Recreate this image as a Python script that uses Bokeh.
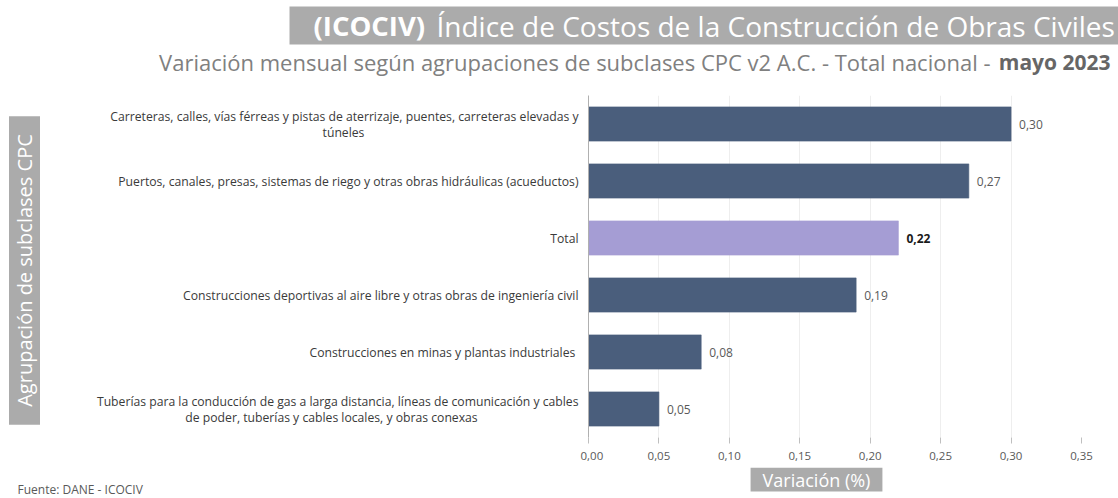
from bokeh.plotting import figure
from bokeh.models import Label, Range1d, FixedTicker, ColumnDataSource
from bokeh.layouts import column, row
from bokeh.embed import file_html
from bokeh.resources import INLINE
from math import pi

# ---------------- data ----------------
categories_line1 = [
    "Carreteras, calles, vías férreas y pistas de aterrizaje, puentes, carreteras elevadas y",
    "Puertos, canales, presas, sistemas de riego y otras obras hidráulicas (acueductos)",
    "Total",
    "Construcciones deportivas al aire libre y otras obras de ingeniería civil",
    "Construcciones  en minas y plantas industriales",
    "Tuberías para la conducción de gas a larga distancia, líneas de comunicación y cables",
]
categories_line2 = [
    "túneles",
    "",
    "",
    "",
    "",
    "de poder, tuberías y cables locales, y obras conexas",
]
values = [0.30, 0.27, 0.22, 0.19, 0.08, 0.05]
value_labels = ["0,30", "0,27", "0,22", "0,19", "0,08", "0,05"]
tick_values = [0.0, 0.05, 0.1, 0.15, 0.2, 0.25, 0.3, 0.35]
tick_labels = ["0,00", "0,05", "0,10", "0,15", "0,20", "0,25", "0,30", "0,35"]

FONT = "Open Sans"
DARK = "#4a5e7c"
TOTAL = "#a59dd4"
GREY_BOX = "#ababab"

n = len(values)
ypos = [n - 0.5 - i for i in range(n)]
colors = [TOTAL if c == "Total" else DARK for c in categories_line1]

W = 1118
TOP_H = 95
MID_H = 372
BOT_H = 31
LEFT_W = 580
FRAME_H = 342


def blank(width, height, xr, yr):
    f = figure(width=width, height=height, output_backend="svg", toolbar_location=None,
               x_range=xr, y_range=yr, min_border=0)
    f.axis.visible = False
    f.grid.visible = False
    f.outline_line_color = None
    return f


# ---------------- header ----------------
top = blank(W, TOP_H, Range1d(0, W), Range1d(0, TOP_H))
# grey box starts at x=289; the padding keeps the text at x=436
top.add_layout(Label(x=289, y=70, text="Índice de Costos de la Construcción de Obras Civiles",
                     text_align="left", text_baseline="middle", text_font=FONT,
                     text_font_size="28px", text_color="white",
                     background_fill_color=GREY_BOX,
                     padding=(147, 60, 0, 0)))
top.add_layout(Label(x=313, y=70, text="(ICOCIV)", text_align="left", text_baseline="middle",
                     text_font=FONT, text_font_size="27.5px", text_font_style="bold",
                     text_color="white"))
top.add_layout(Label(x=1110, y=34, text="mayo 2023", text_align="right", text_baseline="middle",
                     text_font=FONT, text_font_size="21px", text_font_style="bold",
                     text_color="#666666"))
top.add_layout(Label(x=990, y=34,
                     text="Variación mensual según agrupaciones de subclases CPC v2 A.C. - Total nacional -",
                     text_align="right", text_baseline="middle",
                     text_font=FONT, text_font_size="22px", text_color="#808080"))

# ---------------- left: category labels ----------------
left = blank(LEFT_W, MID_H, Range1d(0, LEFT_W), Range1d(0, n))
line2_center = [343, None, None, None, None, 331]
for y, l1, l2, cx in zip(ypos, categories_line1, categories_line2, line2_center):
    if l2:
        left.add_layout(Label(x=LEFT_W - 2, y=y, y_offset=8, text=l1, text_align="right",
                              text_baseline="middle", text_font=FONT, text_font_size="12.2px",
                              text_color="#3a3a3a"))
        left.add_layout(Label(x=cx, y=y, y_offset=-8, text=l2, text_align="center",
                              text_baseline="middle", text_font=FONT, text_font_size="12.2px",
                              text_color="#3a3a3a"))
    else:
        left.add_layout(Label(x=LEFT_W - 2, y=y, text=l1, text_align="right",
                              text_baseline="middle", text_font=FONT, text_font_size="12.2px",
                              text_color="#3a3a3a"))
left.add_layout(Label(x=24, y=167, x_units="screen", y_units="screen",
                      text="Agrupación de subclases CPC", angle=pi / 2,
                      text_align="center", text_baseline="middle",
                      text_font=FONT, text_font_size="20px", text_color="white",
                      background_fill_color=GREY_BOX,
                      padding=(18, 18, 2, 2)))

# ---------------- main chart ----------------
src = ColumnDataSource(dict(y=ypos, v=values, c=colors))
p = figure(width=W - LEFT_W, height=MID_H, output_backend="svg", toolbar_location=None,
           x_range=Range1d(0, 0.35), y_range=Range1d(0, n),
           min_border_left=8, min_border_right=37, min_border_top=0,
           min_border_bottom=MID_H - FRAME_H)
p.outline_line_color = None

p.hbar(y="y", right="v", left=0, height=0.6, color="c", source=src,
       line_color="c", line_alpha=0.6)

p.yaxis.ticker = FixedTicker(ticks=[])
p.yaxis.minor_tick_line_color = None
p.yaxis.major_tick_line_color = None
p.yaxis.axis_line_color = "#b0b0b0"
p.yaxis.major_label_text_font_size = "0px"
p.yaxis.major_label_standoff = 0
p.ygrid.visible = False

p.xaxis.ticker = FixedTicker(ticks=tick_values)
p.xaxis.major_label_overrides = {t: l for t, l in zip(tick_values, tick_labels)}
p.xaxis.axis_line_color = None
p.xaxis.major_tick_in = 0
p.xaxis.major_tick_out = 6
p.xaxis.major_tick_line_color = "#bfbfbf"
p.xaxis.minor_tick_line_color = None
p.xaxis.major_label_text_font = FONT
p.xaxis.major_label_text_font_size = "11.5px"
p.xaxis.major_label_text_color = "#595959"
p.xaxis.major_label_standoff = 8
p.xgrid.ticker = FixedTicker(ticks=tick_values)
p.xgrid.grid_line_color = "#eeeeee"

for y, v, lab, c in zip(ypos, values, value_labels, categories_line1):
    bold = c == "Total"
    p.add_layout(Label(x=v, y=y, text=lab, x_offset=8, text_baseline="middle",
                       text_font=FONT, text_font_size="12px",
                       text_color="#1a1a1a" if bold else "#595959",
                       text_font_style="bold" if bold else "normal"))

# ---------------- footer ----------------
bot = blank(W, BOT_H, Range1d(0, W), Range1d(0, BOT_H))
bot.add_layout(Label(x=816, y=19, text="Variación (%)", text_align="center",
                     text_baseline="middle", text_font=FONT, text_font_size="18px",
                     text_color="white", background_fill_color=GREY_BOX,
                     padding=(12, 12, 0, 0)))
bot.add_layout(Label(x=17, y=9, text="Fuente: DANE - ICOCIV", text_align="left",
                     text_baseline="middle", text_font=FONT, text_font_size="12px",
                     text_color="#595959"))

layout = column(top, row(left, p), bot)
open("out.html", "w").write(file_html(layout, INLINE))
